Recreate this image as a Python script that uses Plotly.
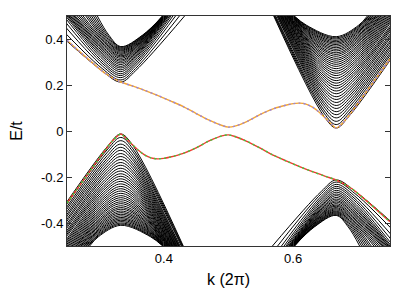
import plotly.graph_objects as go

# ---------------- data ----------------
valley_k = [0.3333, 0.6667]          # K and K' positions (units of 2*pi)

# lower band fan near K (each entry = one sub-band)
ll_peak = [-0.013, -0.028, -0.042, -0.057, -0.071, -0.084, -0.098, -0.111, -0.124, -0.137,
           -0.149, -0.162, -0.174, -0.186, -0.197, -0.208, -0.219, -0.230, -0.241, -0.251,
           -0.261, -0.271, -0.281, -0.290, -0.299, -0.308, -0.316, -0.325, -0.333, -0.340,
           -0.348, -0.355, -0.362, -0.369, -0.376, -0.382, -0.388, -0.394, -0.400, -0.405, -0.410]
ll_kl = [0.203, 0.205, 0.208, 0.210, 0.213, 0.216, 0.218, 0.221, 0.223, 0.226,
         0.228, 0.230, 0.233, 0.235, 0.237, 0.239, 0.242, 0.244, 0.246, 0.248,
         0.250, 0.252, 0.254, 0.256, 0.258, 0.260, 0.262, 0.264, 0.265, 0.267,
         0.269, 0.271, 0.272, 0.274, 0.276, 0.277, 0.279, 0.280, 0.282, 0.283, 0.285]
ll_kr = [0.430, 0.429, 0.428, 0.427, 0.425, 0.424, 0.423, 0.422, 0.421, 0.420,
         0.419, 0.418, 0.418, 0.417, 0.416, 0.415, 0.414, 0.413, 0.413, 0.412,
         0.411, 0.410, 0.409, 0.409, 0.408, 0.407, 0.407, 0.406, 0.405, 0.405,
         0.404, 0.403, 0.402, 0.402, 0.401, 0.401, 0.400, 0.400, 0.399, 0.399, 0.398]
ll_sl = [0.0195, 0.0201, 0.0206, 0.0211, 0.0216, 0.0221, 0.0226, 0.0231, 0.0236, 0.0241,
         0.0246, 0.0250, 0.0255, 0.0259, 0.0264, 0.0268, 0.0272, 0.0276, 0.0280, 0.0284,
         0.0288, 0.0292, 0.0296, 0.0299, 0.0303, 0.0306, 0.0310, 0.0313, 0.0316, 0.0319,
         0.0322, 0.0325, 0.0328, 0.0331, 0.0334, 0.0337, 0.0339, 0.0341, 0.0344, 0.0346, 0.0348]
ll_sr = [0.0186, 0.0189, 0.0193, 0.0196, 0.0200, 0.0204, 0.0208, 0.0213, 0.0217, 0.0222,
         0.0227, 0.0232, 0.0237, 0.0243, 0.0248, 0.0254, 0.0260, 0.0266, 0.0273, 0.0279,
         0.0286, 0.0293, 0.0300, 0.0307, 0.0315, 0.0323, 0.0331, 0.0339, 0.0347, 0.0356,
         0.0364, 0.0373, 0.0382, 0.0391, 0.0401, 0.0410, 0.0420, 0.0430, 0.0440, 0.0450, 0.0461]

# upper band fan near K'
ur_peak = [0.013, 0.028, 0.042, 0.057, 0.071, 0.084, 0.098, 0.111, 0.124, 0.137,
           0.149, 0.162, 0.174, 0.186, 0.197, 0.208, 0.219, 0.230, 0.241, 0.251,
           0.261, 0.271, 0.281, 0.290, 0.299, 0.308, 0.316, 0.325, 0.333, 0.340,
           0.348, 0.355, 0.362, 0.369, 0.376, 0.382, 0.388, 0.394, 0.400, 0.405, 0.410]
ur_kl = [0.570, 0.571, 0.572, 0.573, 0.575, 0.576, 0.577, 0.578, 0.579, 0.580,
         0.581, 0.582, 0.582, 0.583, 0.584, 0.585, 0.586, 0.587, 0.587, 0.588,
         0.589, 0.590, 0.591, 0.591, 0.592, 0.593, 0.593, 0.594, 0.595, 0.595,
         0.596, 0.597, 0.598, 0.598, 0.599, 0.599, 0.600, 0.600, 0.601, 0.601, 0.602]
ur_kr = [0.797, 0.795, 0.792, 0.790, 0.787, 0.784, 0.782, 0.779, 0.777, 0.774,
         0.772, 0.770, 0.767, 0.765, 0.763, 0.761, 0.758, 0.756, 0.754, 0.752,
         0.750, 0.748, 0.746, 0.744, 0.742, 0.740, 0.738, 0.736, 0.735, 0.733,
         0.731, 0.729, 0.728, 0.726, 0.724, 0.723, 0.721, 0.720, 0.718, 0.717, 0.715]
ur_sl = [0.0186, 0.0189, 0.0193, 0.0196, 0.0200, 0.0204, 0.0208, 0.0213, 0.0217, 0.0222,
         0.0227, 0.0232, 0.0237, 0.0243, 0.0248, 0.0254, 0.0260, 0.0266, 0.0273, 0.0279,
         0.0286, 0.0293, 0.0300, 0.0307, 0.0315, 0.0323, 0.0331, 0.0339, 0.0347, 0.0356,
         0.0364, 0.0373, 0.0382, 0.0391, 0.0401, 0.0410, 0.0420, 0.0430, 0.0440, 0.0450, 0.0461]
ur_sr = [0.0195, 0.0201, 0.0206, 0.0211, 0.0216, 0.0221, 0.0226, 0.0231, 0.0236, 0.0241,
         0.0246, 0.0250, 0.0255, 0.0259, 0.0264, 0.0268, 0.0272, 0.0276, 0.0280, 0.0284,
         0.0288, 0.0292, 0.0296, 0.0299, 0.0303, 0.0306, 0.0310, 0.0313, 0.0316, 0.0319,
         0.0322, 0.0325, 0.0328, 0.0331, 0.0334, 0.0337, 0.0339, 0.0341, 0.0344, 0.0346, 0.0348]

# upper band fan near K
ul_peak = [0.213, 0.222, 0.232, 0.241, 0.249, 0.258, 0.266, 0.274, 0.281, 0.289,
           0.296, 0.303, 0.309, 0.316, 0.322, 0.327, 0.333, 0.338, 0.343, 0.348,
           0.352, 0.356, 0.360, 0.364, 0.367]
ul_kl = [0.207, 0.222, 0.233, 0.240, 0.245, 0.248, 0.250, 0.252, 0.253, 0.255,
         0.257, 0.259, 0.261, 0.263, 0.266, 0.269, 0.272, 0.275, 0.279, 0.282,
         0.285, 0.288, 0.291, 0.294, 0.297]
ul_kr = [0.432, 0.424, 0.418, 0.414, 0.411, 0.409, 0.407, 0.406, 0.405, 0.404,
         0.403, 0.403, 0.402, 0.402, 0.401, 0.401, 0.400, 0.400, 0.400, 0.399,
         0.399, 0.399, 0.398, 0.398, 0.398]
ul_sl = [0.0297, 0.0290, 0.0283, 0.0276, 0.0270, 0.0265, 0.0260, 0.0258, 0.0257, 0.0256,
         0.0256, 0.0256, 0.0256, 0.0255, 0.0253, 0.0251, 0.0248, 0.0245, 0.0242, 0.0236,
         0.0228, 0.0219, 0.0209, 0.0198, 0.0186]
ul_sr = [0.0232, 0.0229, 0.0226, 0.0224, 0.0222, 0.0222, 0.0222, 0.0226, 0.0231, 0.0237,
         0.0243, 0.0249, 0.0256, 0.0263, 0.0270, 0.0278, 0.0285, 0.0293, 0.0300, 0.0306,
         0.0312, 0.0318, 0.0325, 0.0331, 0.0337]

# lower band fan near K'
lr_peak = [-0.213, -0.222, -0.232, -0.241, -0.249, -0.258, -0.266, -0.274, -0.281, -0.289,
           -0.296, -0.303, -0.309, -0.316, -0.322, -0.327, -0.333, -0.338, -0.343, -0.348,
           -0.352, -0.356, -0.360, -0.364, -0.367]
lr_kl = [0.568, 0.576, 0.582, 0.586, 0.589, 0.591, 0.593, 0.594, 0.595, 0.596,
         0.597, 0.597, 0.598, 0.598, 0.599, 0.599, 0.600, 0.600, 0.600, 0.601,
         0.601, 0.601, 0.602, 0.602, 0.602]
lr_kr = [0.793, 0.778, 0.767, 0.760, 0.755, 0.752, 0.750, 0.748, 0.747, 0.745,
         0.743, 0.741, 0.739, 0.737, 0.734, 0.731, 0.728, 0.725, 0.721, 0.718,
         0.715, 0.712, 0.709, 0.706, 0.703]
lr_sl = [0.0232, 0.0229, 0.0226, 0.0224, 0.0222, 0.0222, 0.0222, 0.0226, 0.0231, 0.0237,
         0.0243, 0.0249, 0.0256, 0.0263, 0.0270, 0.0278, 0.0285, 0.0293, 0.0300, 0.0306,
         0.0312, 0.0318, 0.0325, 0.0331, 0.0337]
lr_sr = [0.0297, 0.0290, 0.0283, 0.0276, 0.0270, 0.0265, 0.0260, 0.0258, 0.0257, 0.0256,
         0.0256, 0.0256, 0.0256, 0.0255, 0.0253, 0.0251, 0.0248, 0.0245, 0.0242, 0.0236,
         0.0228, 0.0219, 0.0209, 0.0198, 0.0186]

# edge states
edge_k_up = [0.25, 0.27, 0.29, 0.31, 0.3333, 0.35, 0.37, 0.39, 0.41, 0.43,
             0.45, 0.47, 0.49, 0.50, 0.51, 0.53, 0.55, 0.57, 0.59, 0.60,
             0.61, 0.62, 0.63, 0.64, 0.65, 0.66, 0.6667, 0.68, 0.69, 0.71, 0.73, 0.75]
edge_e_up = [0.395, 0.344, 0.295, 0.249, 0.213, 0.197, 0.177, 0.155, 0.131, 0.106,
             0.076, 0.047, 0.024, 0.017, 0.021, 0.043, 0.073, 0.097, 0.113, 0.119,
             0.121, 0.117, 0.104, 0.083, 0.056, 0.028, 0.013, 0.044, 0.080, 0.157, 0.235, 0.313]
edge_k_lo = [0.25, 0.27, 0.29, 0.31, 0.32, 0.3333, 0.34, 0.35, 0.36, 0.37,
             0.38, 0.39, 0.40, 0.41, 0.43, 0.45, 0.47, 0.49, 0.50, 0.51,
             0.53, 0.55, 0.57, 0.59, 0.61, 0.63, 0.65, 0.6667, 0.69, 0.71, 0.73, 0.75]
edge_e_lo = [-0.313, -0.235, -0.157, -0.080, -0.044, -0.013, -0.028, -0.056, -0.083, -0.104,
             -0.117, -0.121, -0.119, -0.113, -0.097, -0.073, -0.043, -0.021, -0.017, -0.024,
             -0.047, -0.076, -0.106, -0.131, -0.155, -0.177, -0.197, -0.213, -0.249, -0.295, -0.344, -0.395]

x_ticks = [0.4, 0.6]
x_tick_labels = ["0.4", "0.6"]
y_ticks = [-0.4, -0.2, 0, 0.2, 0.4]
y_tick_labels = ["-0.4", "-0.2", "0", "0.2", "0.4"]
E_MAX = 0.5
SHOULDER = 0.05


def fan(K, peaks, kl, kr, sl, sr, sign):
    """sign=+1: band opens upward (minimum at K); -1: opens downward."""
    xs, ys = [], []
    for p, a, b, l, r in zip(peaks, kl, kr, sl, sr):
        edge = sign * E_MAX
        xs += [a, K - l, K, K + r, b, None]
        ys += [edge, p + sign * SHOULDER, p, p + sign * SHOULDER, edge, None]
    return xs, ys


fig = go.Figure()
fans = [
    (valley_k[0], ll_peak, ll_kl, ll_kr, ll_sl, ll_sr, -1),
    (valley_k[0], ul_peak, ul_kl, ul_kr, ul_sl, ul_sr, +1),
    (valley_k[1], ur_peak, ur_kl, ur_kr, ur_sl, ur_sr, +1),
    (valley_k[1], lr_peak, lr_kl, lr_kr, lr_sl, lr_sr, -1),
]
for f in fans:
    xs, ys = fan(*f)
    fig.add_trace(go.Scatter(x=xs, y=ys, mode="lines", hoverinfo="skip",
                             line=dict(color="black", width=1.0, shape="spline", smoothing=1.0),
                             showlegend=False))

# edge states (two degenerate copies, drawn one over the other)
fig.add_trace(go.Scatter(x=edge_k_up, y=edge_e_up, mode="lines", showlegend=False,
                         line=dict(color="#f5a630", width=1.4, shape="spline", smoothing=0.8)))
fig.add_trace(go.Scatter(x=edge_k_up, y=edge_e_up, mode="lines", showlegend=False,
                         line=dict(color="#9a84dc", width=1.4, dash="2px,3px", shape="spline", smoothing=0.8)))
fig.add_trace(go.Scatter(x=edge_k_lo, y=edge_e_lo, mode="lines", showlegend=False,
                         line=dict(color="#ee3b30", width=1.4, shape="spline", smoothing=0.8)))
fig.add_trace(go.Scatter(x=edge_k_lo, y=edge_e_lo, mode="lines", showlegend=False,
                         line=dict(color="#3ccc3c", width=1.4, dash="2px,3px", shape="spline", smoothing=0.8)))

axis_common = dict(ticks="inside", ticklen=5, tickcolor="#333", showline=True, linecolor="#333",
                   linewidth=1, mirror="allticks", showgrid=False, zeroline=False, automargin=False)
fig.update_xaxes(range=[0.25, 0.75], tickvals=x_ticks, ticktext=x_tick_labels,
                 title=dict(text="k (2π)", standoff=9), **axis_common)
fig.update_yaxes(range=[-0.5, 0.5], tickvals=y_ticks, ticktext=y_tick_labels,
                 title=dict(text="E/t", standoff=16), **axis_common)
# the page body adds an 8 px offset, so the figure is laid out 8 px up/left
fig.update_layout(width=407, height=283, margin=dict(l=59, r=25, t=8, b=45),
                  paper_bgcolor="white", plot_bgcolor="white",
                  font=dict(family="Liberation Sans, Arial, sans-serif", size=13, color="black"))
fig.write_html("out.html")
